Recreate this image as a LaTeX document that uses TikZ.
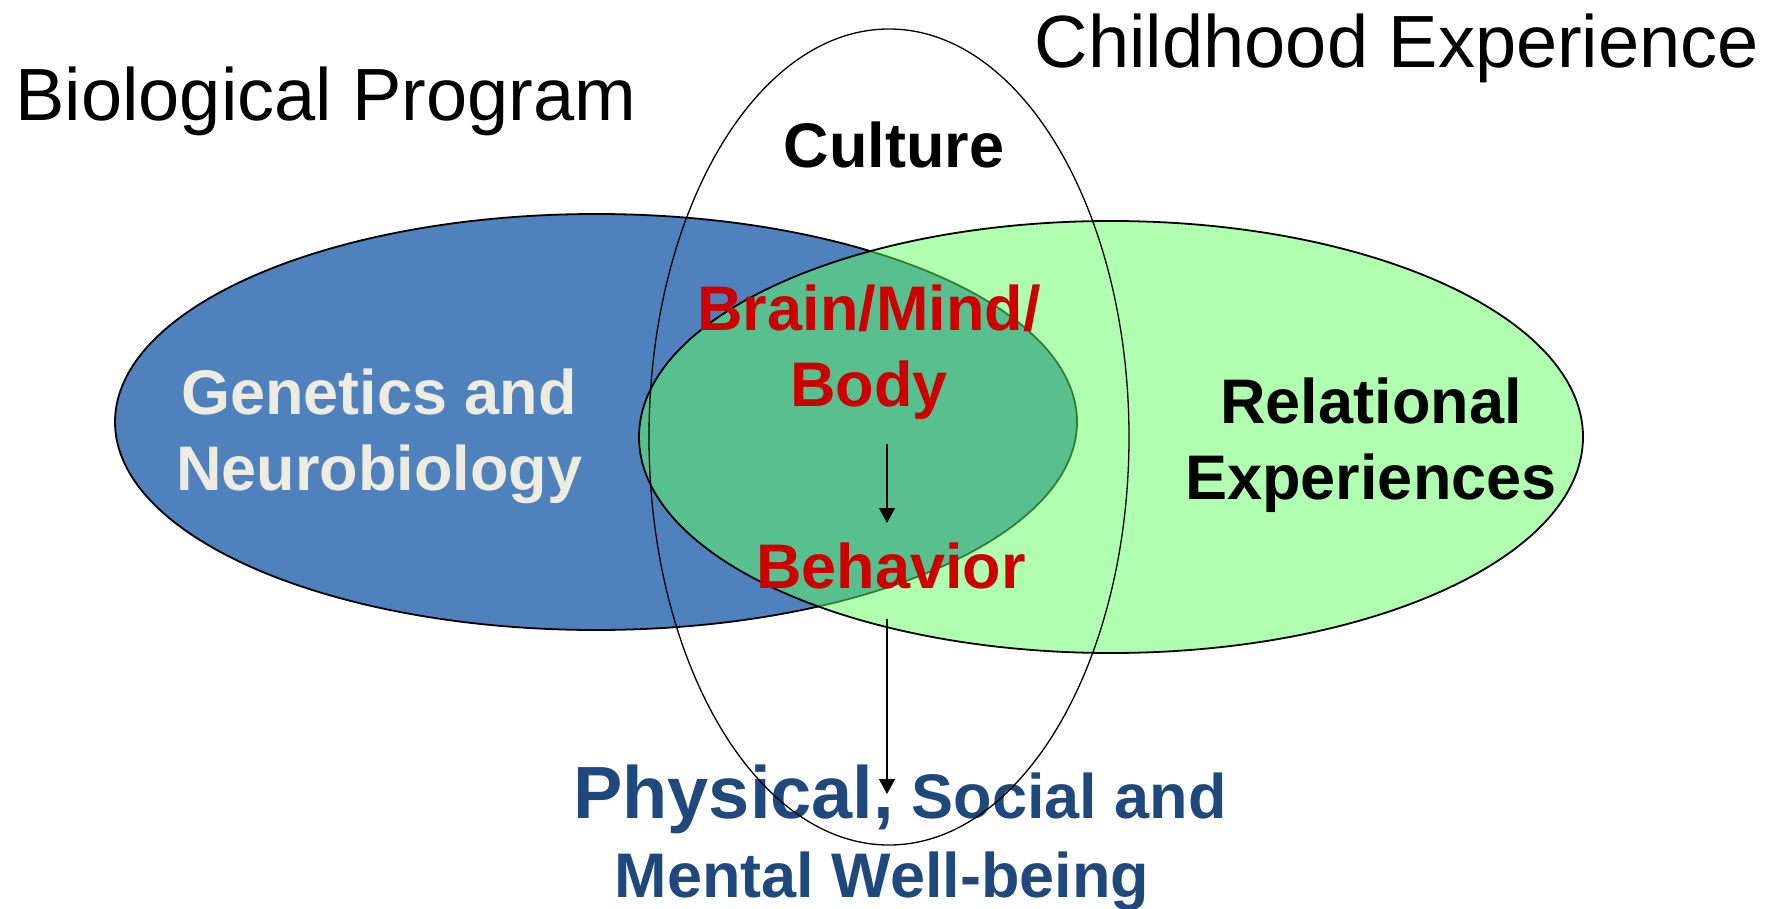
\documentclass[tikz,border=0pt]{standalone}
\usepackage{fontspec}
\setmainfont{Liberation Sans}
\usepackage{xcolor}
\usetikzlibrary{calc}
\usetikzlibrary{arrows.meta}
\usetikzlibrary{positioning}
\definecolor{bioblue}{HTML}{4F81BD}
\definecolor{relgreen}{HTML}{61FF61}
\definecolor{brainred}{HTML}{CC0000}
\definecolor{wellblue}{HTML}{1F497D}
\definecolor{genecream}{HTML}{EEECE1}
\newcommand{\vennoval}[5]{
    \pgfmathsetmacro{\ox}{#1}
    \pgfmathsetmacro{\oy}{#2}
    \pgfmathsetmacro{\orx}{#3}
    \pgfmathsetmacro{\ory}{#4}
    \draw[#5] (\ox, \oy) ellipse [x radius=\orx pt, y radius=\ory pt];
}

\begin{document}
\begin{tikzpicture}[x=1pt, y=-1pt,
        heading/.style={font=\fontsize{74}{80}\selectfont, inner sep=0pt, anchor=base},
        tag/.style={font=\bfseries\fontsize{63}{76}\selectfont, inner sep=0pt, anchor=base, align=center},
        flow/.style={line width=1.4pt, -{Triangle[width=16pt, length=15pt]}}]
                \useasboundingbox (0, 0) rectangle (1777, 909);
                % the three sets
                \vennoval{596}{422}{481}{208}{fill=bioblue, line width=1.8pt}
                \vennoval{1111}{437}{472}{216}{fill=relgreen, fill opacity=0.5, line width=1.8pt}
                % headings and labels (base = last line)
                \node[heading] (bio) at (326, 121) {Biological Program};
                \node[heading] (child) at (1397, 68) {Childhood Experience};
                \node[tag] (culture) at (894, 168) {Culture};
                \node[tag, text=genecream] (genes) at (379, 490) {Genetics and\\Neurobiology};
                \node[tag] (relate) at (1371, 499) {Relational\\Experiences};
                \node[tag, text=brainred] (body) at (869, 406) {Brain/Mind/\\Body};
                \node[tag, text=brainred] (behav) at (891, 588) {Behavior};
                \node[tag, anchor=base west, text=wellblue] (phys) at (573, 818)
                    {\fontsize{74}{80}\selectfont Physical,\fontsize{63}{76}\selectfont{} Social and};
                \node[tag, text=wellblue] (mental) at (882, 897) {Mental Well-being};
                % culture ring over everything
                \vennoval{889}{437}{240}{408}{line width=1.3pt}
                \draw[flow] ($(body.base)+(18, 38)$) -- ($(behav.base)+(-4, -65)$);
                \draw[flow] ($(behav.base)+(-4, 31)$) -- ($(phys.base west)+(314, -24)$);
            \end{tikzpicture}
\end{document}
